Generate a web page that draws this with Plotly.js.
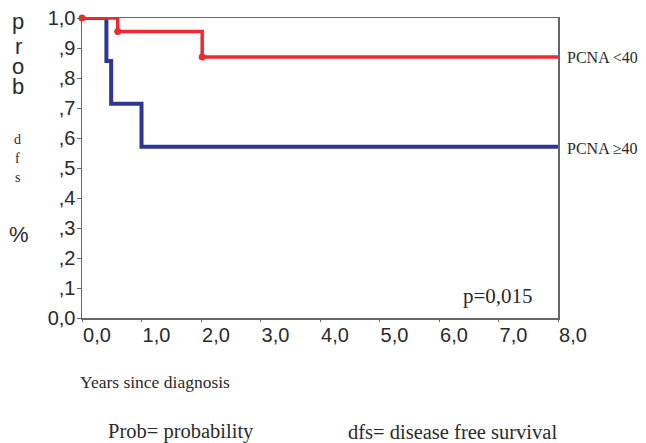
<!DOCTYPE html>
<html><head><meta charset="utf-8">
<script src="https://cdn.plot.ly/plotly-3.0.1.min.js"></script>
<style>html,body{margin:0;padding:0;background:#fff}#c{width:646px;height:443px}</style>
</head><body><div id="c"></div>
<script>
// Kaplan-Meier step data (years, survival probability)
const redX = [0, 0.6, 0.6, 2.02, 2.02, 8.0];
const redY = [1.0, 1.0, 0.955, 0.955, 0.87, 0.87];
const redCensorX = [0, 0.6, 2.02];
const redCensorY = [1.0, 0.955, 0.87];
const blueX = [0, 0.41, 0.41, 0.49, 0.49, 1.0, 1.0, 8.0];
const blueY = [1.0, 1.0, 0.857, 0.857, 0.714, 0.714, 0.571, 0.571];
const xTickVals = [0, 1, 2, 3, 4, 5, 6, 7, 8];
const xTickText = ["0,0","1,0","2,0","3,0","4,0","5,0","6,0","7,0","8,0"];
const yTickVals = [0, 0.1, 0.2, 0.3, 0.4, 0.5, 0.6, 0.7, 0.8, 0.9, 1.0];
const yTickText = ["0,0",",1",",2",",3",",4",",5",",6",",7",",8",",9","1,0"];
const seriesNames = ["PCNA <40", "PCNA \u226540"];

const RED = "#ee2a2f", BLUE = "#2e3592";
const L = 82, T = 18, W = 476, H = 300;
const px = x => (x - L) / W, py = y => (T + H - y) / H;
const sans = "Liberation Sans, Arial, sans-serif";
const serif = "Liberation Serif, Times New Roman, serif";
const TXT = "#2a2a2a";

const traces = [
  {x: blueX, y: blueY, mode: "lines", line: {color: BLUE, width: 4}, cliponaxis: false, name: seriesNames[1]},
  {x: redX, y: redY, mode: "lines", line: {color: RED, width: 3.5}, cliponaxis: false, name: seriesNames[0]},
  {x: redCensorX, y: redCensorY, mode: "markers", marker: {color: RED, size: 7}, cliponaxis: false, name: "censored"}
];

function ann(text, x, y, font, size, xanchor) {
  return {text: text, xref: "paper", yref: "paper", x: px(x), y: py(y), showarrow: false,
    xanchor: xanchor || "center", yanchor: "middle", font: {family: font, size: size, color: TXT}};
}

const annotations = [
  ann(seriesNames[0], 565, 57, serif, 16, "left"),
  ann(seriesNames[1], 565, 148, serif, 16, "left"),
  ann("p=0,015", 498, 296, serif, 21),
  ann("Years since diagnosis", 78, 382, serif, 17.5, "left"),
  ann("Prob= probability", 106, 432, serif, 20.5, "left"),
  ann("dfs= disease free survival", 346, 432, serif, 20.5, "left"),
  ann("p", 18, 22, sans, 22),
  ann("r", 18, 46, sans, 22),
  ann("o", 18, 66, sans, 22),
  ann("b", 18, 86, sans, 22),
  ann("d", 17, 139, serif, 14),
  ann("f", 17, 158, serif, 14),
  ann("s", 17, 177, serif, 14),
  ann("%", 19, 234, sans, 22)
];

const layout = {
  width: 646, height: 443,
  margin: {l: L, r: 646 - L - W, t: T, b: 443 - T - H},
  paper_bgcolor: "#fff", plot_bgcolor: "#fff",
  showlegend: false,
  font: {family: sans, color: TXT},
  xaxis: {range: [0, 8], tickvals: xTickVals, ticktext: xTickText, showgrid: false, zeroline: false,
    showline: true, linecolor: "#666", linewidth: 1.5, mirror: true,
    ticks: "outside", ticklen: 2, tickcolor: "#666", tickfont: {family: sans, size: 20, color: TXT},
    ticklabelshift: 15, ticklabelstandoff: -4},
  yaxis: {range: [0, 1], tickvals: yTickVals, ticktext: yTickText, showgrid: false, zeroline: false,
    showline: true, linecolor: "#666", linewidth: 1.5, mirror: true,
    ticks: "outside", ticklen: 4, tickcolor: "#666", tickfont: {family: sans, size: 20, color: TXT},
    ticklabelstandoff: -3},
  annotations: annotations
};

Plotly.newPlot("c", traces, layout, {staticPlot: true, displayModeBar: false});
</script>
</body></html>
